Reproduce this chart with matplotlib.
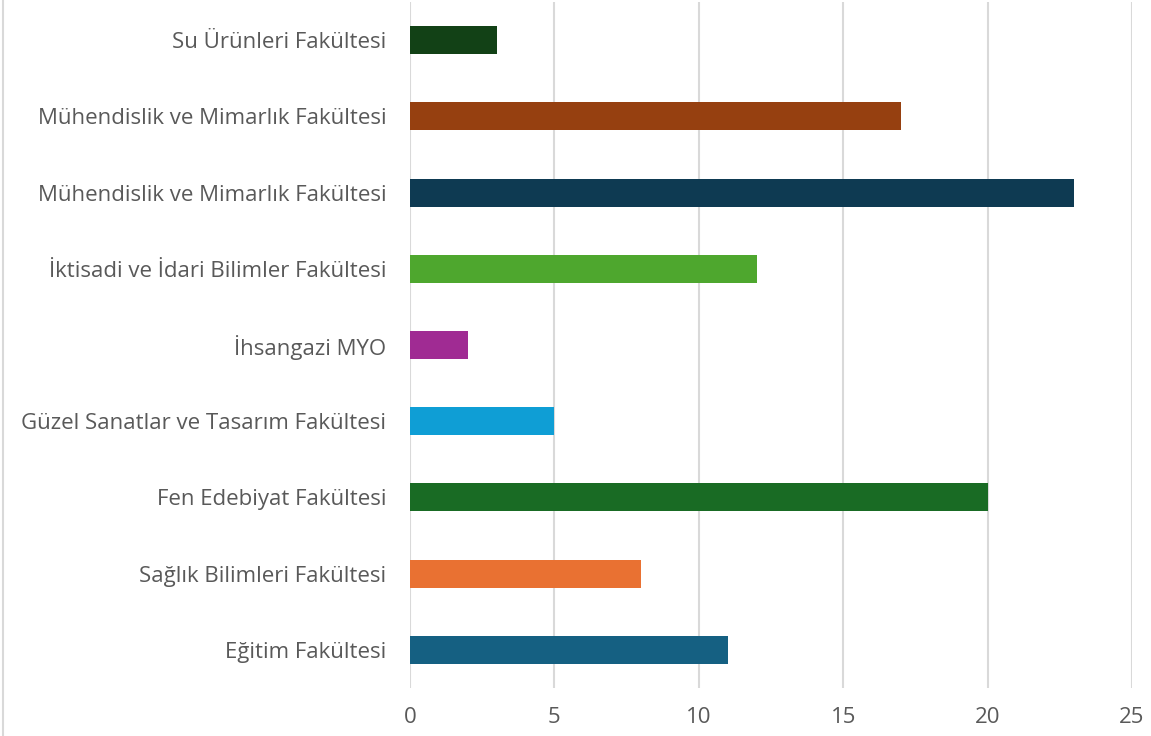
import matplotlib
matplotlib.use("Agg")
import matplotlib.pyplot as plt
from matplotlib.lines import Line2D

# bottom to top
categories = [
    "Eğitim Fakültesi",
    "Sağlık Bilimleri Fakültesi",
    "Fen Edebiyat Fakültesi",
    "Güzel Sanatlar ve Tasarım Fakültesi",
    "İhsangazi MYO",
    "İktisadi ve İdari Bilimler Fakültesi",
    "Mühendislik ve Mimarlık Fakültesi",
    "Mühendislik ve Mimarlık Fakültesi",
    "Su Ürünleri Fakültesi",
]
values = [11, 8, 20, 5, 2, 12, 23, 17, 3]
colors = ["#156082", "#e97132", "#196b24", "#0f9ed5", "#a02b93",
          "#4ea72e", "#0e3a52", "#964010", "#124116"]
xticks = [0, 5, 10, 15, 20, 25]

plt.rcParams["font.family"] = ["Open Sans", "DejaVu Sans"]

fig = plt.figure(figsize=(11.51, 7.36), dpi=100)
ax = fig.add_axes([410 / 1151, 48 / 736, 722 / 1151, 686 / 736])

pos = list(range(len(categories)))
ax.barh(pos, values, height=0.367, color=colors, zorder=3)

ax.set_xlim(0, 25)
ax.set_ylim(-0.5, len(categories) - 0.5)
ax.set_xticks(xticks)
ax.set_yticks(pos)
ax.set_yticklabels(categories)
ax.tick_params(length=0, labelsize=16, labelcolor="#595959")
ax.tick_params(axis="y", pad=17)
ax.tick_params(axis="x", pad=14)
ax.grid(axis="x", color="#d9d9d9", linewidth=1.5, zorder=0)
for s in ax.spines.values():
    s.set_visible(False)

# chart border remnant at the left edge
fig.add_artist(Line2D([3 / 1151, 3 / 1151], [0, 1], color="#d9d9d9",
                      linewidth=1.5, transform=fig.transFigure))

fig.savefig("out.png", dpi=100)
